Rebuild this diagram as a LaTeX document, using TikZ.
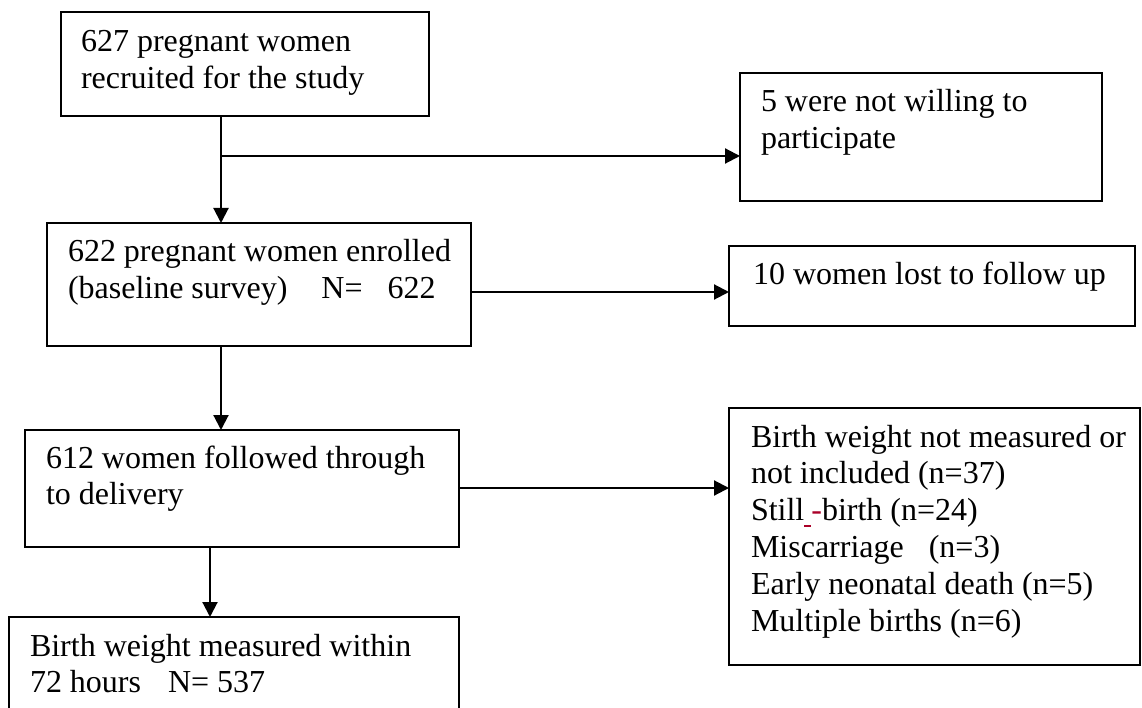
\documentclass[tikz,border=0pt]{standalone}
\usepackage{fontspec}
\setmainfont{Liberation Serif}
\usetikzlibrary{arrows.meta}
\definecolor{wordred}{RGB}{170,0,40}
\newcommand{\bxt}[5]{\parbox[c][#2pt][t]{#1pt}{\raggedright\leftskip=#3pt\rule{0pt}{#4pt}#5}}
\tikzset{
  flowbox/.style={draw, line width=1.9pt, inner sep=0pt, outer sep=0pt, anchor=north west,
    font=\fontsize{32}{36.8}\selectfont},
  flowarrow/.style={-{Triangle[length=15pt,width=15pt]}, line width=2.1pt},
}
\begin{document}
\begin{tikzpicture}[x=1pt,y=-1pt]
\useasboundingbox (0,0) rectangle (1142,708);
\clip (0,0) rectangle (1142,708);
\fill[white] (0,0) rectangle (1142,708);

\node[flowbox] (B1) at (61,12) {\bxt{368}{104}{20}{40}{627 pregnant women\\recruited for the study}};
\node[flowbox] (B2) at (47,223) {\bxt{424}{123}{21}{39}{622 pregnant women enrolled\\(baseline survey)\hspace*{34pt}N=\hspace*{25pt}622}};
\node[flowbox] (B3) at (25,430) {\bxt{434}{117}{21}{38}{612 women followed through\\to delivery}};
\node[flowbox] (B4) at (9,617) {\bxt{450}{110}{21}{39}{Birth weight measured within\\72 hours\hspace*{27pt}N= 537}};
\node[flowbox] (R1) at (740,73) {\bxt{362}{128}{21}{39}{5 were not willing to\\participate}};
\node[flowbox] (R2) at (729,246) {\bxt{406}{80}{24}{39}{10 women lost to follow up}};
\node[flowbox] (R3) at (729,408) {\bxt{411}{257}{22}{39}{Birth weight not measured or\\not included (n=37)\\Still\textcolor{wordred}{\rule[-6pt]{7pt}{2pt}}\textcolor{wordred}{-}birth (n=24)\\Miscarriage\hspace*{25pt}(n=3)\\Early neonatal death (n=5)\\Multiple births (n=6)}};

\coordinate (j1) at (221,156);
\coordinate (c2) at (0,292);
\coordinate (c3) at (0,488);
\coordinate (k) at (210,0);

\draw[flowarrow] (B1.south -| j1) -- (B2.north -| j1);
\draw[flowarrow] (j1) -- (R1.west |- j1);
\draw[flowarrow] (B2.east |- c2) -- (R2.west |- c2);
\draw[flowarrow] (B2.south -| j1) -- (B3.north -| j1);
\draw[flowarrow] (B3.east |- c3) -- (R3.west |- c3);
\draw[flowarrow] (B3.south -| k) -- (B4.north -| k);
\end{tikzpicture}
\end{document}
